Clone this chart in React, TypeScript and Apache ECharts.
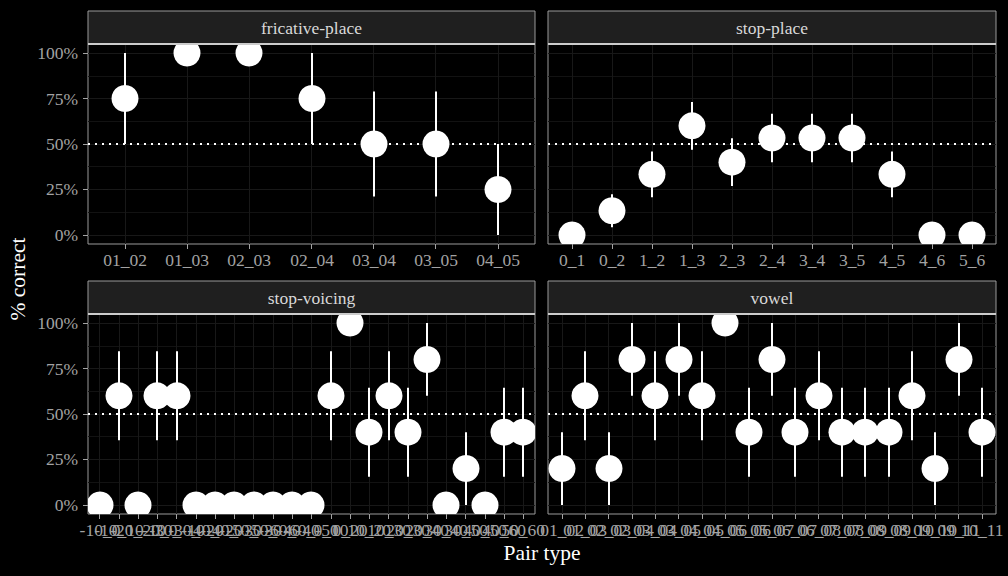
import React, { useEffect, useRef } from "react";
import * as echarts from "echarts";

const fricCats = ["01_02", "01_03", "02_03", "02_04", "03_04", "03_05", "04_05"];
const fricVals = [75, 100, 100, 75, 50, 50, 25];
const fricLo = [50, 100, 100, 50, 21.1, 21.1, 0];
const fricHi = [100, 100, 100, 100, 78.9, 78.9, 50];

const placeCats = ["0_1", "0_2", "1_2", "1_3", "2_3", "2_4", "3_4", "3_5", "4_5", "4_6", "5_6"];
const placeVals = [0, 13.3, 33.3, 60, 40, 53.3, 53.3, 53.3, 33.3, 0, 0];
const placeLo = [0, 4.2, 20.7, 46.9, 26.9, 40, 40, 40, 20.7, 0, 0];
const placeHi = [0, 22.4, 45.9, 73.1, 53.1, 66.7, 66.7, 66.7, 45.9, 0, 0];

const voicingCats = [
  "-10_0", "-10_10", "-20_-10", "-20_0", "-30_-10", "-30_-20", "-40_-20", "-40_-30",
  "-50_-30", "-50_-40", "-60_-40", "-60_-50", "0_10", "0_20", "10_20", "10_30",
  "20_30", "20_40", "30_40", "30_50", "40_50", "40_60", "50_60",
];
const voicingVals = [0, 60, 0, 60, 60, 0, 0, 0, 0, 0, 0, 0, 60, 100, 40, 60, 40, 80, 0, 20, 0, 40, 40];
const voicingLo = [0, 35.5, 0, 35.5, 35.5, 0, 0, 0, 0, 0, 0, 0, 35.5, 100, 15.5, 35.5, 15.5, 60, 0, 0, 0, 15.5, 15.5];
const voicingHi = [0, 84.5, 0, 84.5, 84.5, 0, 0, 0, 0, 0, 0, 0, 84.5, 100, 64.5, 84.5, 64.5, 100, 0, 40, 0, 64.5, 64.5];

const vowelCats = [
  "01_02", "01_03", "02_03", "02_04", "03_04", "03_05", "04_05", "04_06", "05_06", "05_07",
  "06_07", "06_08", "07_08", "07_09", "08_09", "08_10", "09_10", "09_11", "10_11",
];
const vowelVals = [20, 60, 20, 80, 60, 80, 60, 100, 40, 80, 40, 60, 40, 40, 40, 60, 20, 80, 40];
const vowelLo = [0, 35.5, 0, 60, 35.5, 60, 35.5, 100, 15.5, 60, 15.5, 35.5, 15.5, 15.5, 15.5, 35.5, 0, 60, 15.5];
const vowelHi = [40, 84.5, 40, 100, 84.5, 100, 84.5, 100, 64.5, 100, 64.5, 84.5, 64.5, 64.5, 64.5, 84.5, 40, 100, 64.5];

const yMajor = [0, 25, 50, 75, 100];
const yMinor = [12.5, 37.5, 62.5, 87.5];
const chanceLevel = 50;

const FONT = '"Liberation Serif", "DejaVu Serif", serif';
const TICK_COLOR = "#a3a3a3";
const GRID_MAJOR = "#181818";
const GRID_MINOR = "#121212";

const panels = [
  { name: "fricative-place", cats: fricCats, vals: fricVals, lo: fricLo, hi: fricHi, left: 88, top: 44, width: 447, yLabels: true },
  { name: "stop-place", cats: placeCats, vals: placeVals, lo: placeLo, hi: placeHi, left: 548, top: 44, width: 448, yLabels: false },
  { name: "stop-voicing", cats: voicingCats, vals: voicingVals, lo: voicingLo, hi: voicingHi, left: 88, top: 314, width: 447, yLabels: true },
  { name: "vowel", cats: vowelCats, vals: vowelVals, lo: vowelLo, hi: vowelHi, left: 548, top: 314, width: 448, yLabels: false },
];

const PANEL_H = 200;
const STRIP_H = 33;
const Y_MIN = -5;
const Y_MAX = 105;

export default function App() {
  const ref = useRef<HTMLDivElement>(null);

  useEffect(() => {
    if (!ref.current) return;
    const chart = echarts.init(ref.current, null, { renderer: "svg" });

    const grid: any[] = [];
    const xAxis: any[] = [];
    const yAxis: any[] = [];
    const series: any[] = [];
    const graphic: any[] = [];

    panels.forEach((p, i) => {
      const n = p.cats.length;
      const idx = p.cats.map((_, j) => j);
      grid.push({
        left: p.left,
        top: p.top,
        width: p.width,
        height: PANEL_H,
        show: true,
        backgroundColor: "#000",
        borderColor: "#9a9a9a",
        borderWidth: 1,
      });
      xAxis.push({
        type: "value",
        gridIndex: i,
        position: "bottom",
        min: -0.6,
        max: n - 0.4,
        axisLine: { show: false, onZero: false },
        axisTick: { show: true, customValues: idx, length: 5, lineStyle: { color: TICK_COLOR, width: 1 } },
        axisLabel: { show: false, customValues: idx },
        splitLine: { show: true, lineStyle: { color: GRID_MAJOR, width: 1 } },
      });
      yAxis.push({
        type: "value",
        gridIndex: i,
        position: "left",
        min: Y_MIN,
        max: Y_MAX,
        axisLine: { show: false, onZero: false },
        axisTick: { show: p.yLabels, customValues: yMajor, length: 5, lineStyle: { color: TICK_COLOR, width: 1 } },
        axisLabel: {
          show: p.yLabels,
          customValues: yMajor,
          formatter: (v: number) => `${v}%`,
          color: TICK_COLOR,
          fontSize: 17.5,
          fontFamily: FONT,
          margin: 10,
        },
        splitLine: { show: true, lineStyle: { color: GRID_MAJOR, width: 1 } },
      });
      yAxis.push({
        type: "value",
        gridIndex: i,
        position: "right",
        min: Y_MIN,
        max: Y_MAX,
        axisLine: { show: false, onZero: false },
        axisTick: { show: false, customValues: yMinor },
        axisLabel: { show: false, customValues: yMinor },
        splitLine: { show: true, lineStyle: { color: GRID_MINOR, width: 1 } },
      });

      // chance line
      series.push({
        type: "line",
        xAxisIndex: i,
        yAxisIndex: 2 * i,
        data: [
          [-0.6, chanceLevel],
          [n - 0.4, chanceLevel],
        ],
        symbol: "none",
        silent: true,
        z: 2,
        lineStyle: { color: "#ffffff", width: 2, type: [2, 5] },
      });
      // error bars
      series.push({
        type: "custom",
        xAxisIndex: i,
        yAxisIndex: 2 * i,
        clip: true,
        z: 3,
        data: p.cats.map((_, j) => [j, p.lo[j], p.hi[j]]),
        encode: { x: 0, y: [1, 2] },
        renderItem: (params: any, api: any) => {
          const x = api.value(0);
          const a = api.coord([x, api.value(1)]);
          const b = api.coord([x, api.value(2)]);
          const px = Math.round(a[0]);
          return {
            type: "rect",
            shape: { x: px - 1, y: b[1], width: 2, height: Math.max(0, a[1] - b[1]) },
            style: { fill: "#ffffff" },
          };
        },
      });
      // points
      series.push({
        type: "custom",
        xAxisIndex: i,
        yAxisIndex: 2 * i,
        clip: true,
        z: 4,
        data: p.cats.map((_, j) => [j, p.vals[j]]),
        encode: { x: 0, y: 1 },
        renderItem: (params: any, api: any) => {
          const c = api.coord([api.value(0), api.value(1)]);
          return {
            type: "circle",
            shape: { cx: Math.round(c[0]), cy: c[1], r: 13.5 },
            style: { fill: "#ffffff" },
          };
        },
      });
      // x tick labels (all shown, overlapping as in the original)
      series.push({
        type: "custom",
        xAxisIndex: i,
        yAxisIndex: 2 * i,
        clip: false,
        silent: true,
        z: 5,
        data: p.cats.map((_, j) => [j, Y_MIN]),
        encode: { x: 0, y: 1 },
        renderItem: (params: any, api: any) => {
          const c = api.coord([api.value(0), api.value(1)]);
          return {
            type: "text",
            x: Math.round(c[0]),
            y: c[1] + 7,
            style: {
              text: p.cats[params.dataIndex],
              fill: TICK_COLOR,
              font: `17.5px ${FONT}`,
              textAlign: "center",
              textVerticalAlign: "top",
            },
          };
        },
      });

      // strip
      graphic.push({
        type: "rect",
        shape: { x: p.left, y: p.top - STRIP_H, width: p.width, height: STRIP_H },
        style: { fill: "#1f1f1f", stroke: "#9a9a9a", lineWidth: 1 },
        z: 20,
      });
      graphic.push({
        type: "line",
        shape: { x1: p.left, y1: p.top, x2: p.left + p.width, y2: p.top },
        style: { stroke: "#cccccc", lineWidth: 2 },
        z: 21,
      });
      graphic.push({
        type: "text",
        x: p.left + p.width / 2,
        y: p.top - STRIP_H / 2,
        style: {
          text: p.name,
          fill: "#d9d9d9",
          font: `17.5px ${FONT}`,
          textAlign: "center",
          textVerticalAlign: "middle",
        },
        z: 22,
      });
    });

    graphic.push({
      type: "text",
      x: 542,
      y: 553,
      style: {
        text: "Pair type",
        fill: "#ffffff",
        font: `21.5px ${FONT}`,
        textAlign: "center",
        textVerticalAlign: "middle",
      },
      z: 22,
    });
    graphic.push({
      type: "text",
      x: 18,
      y: 279,
      rotation: Math.PI / 2,
      style: {
        text: "% correct",
        fill: "#ffffff",
        font: `21.5px ${FONT}`,
        textAlign: "center",
        textVerticalAlign: "middle",
      },
      z: 22,
    });

    chart.setOption({
      animation: false,
      backgroundColor: "#000000",
      grid,
      xAxis,
      yAxis,
      series,
      graphic,
    });

    return () => chart.dispose();
  }, []);

  return (
    <div
      ref={ref}
      style={{ position: "fixed", left: 0, top: 0, width: 1008, height: 576 }}
    />
  );
}
